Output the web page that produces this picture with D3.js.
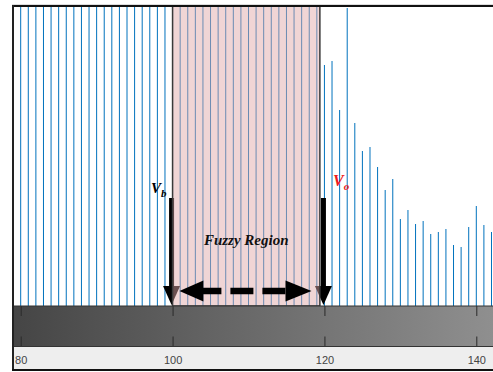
<!DOCTYPE html>
<html>
<head>
<meta charset="utf-8">
<script src="https://cdn.jsdelivr.net/npm/d3@7"></script>
<style>
  body { margin: 0; background: #fff; }
  svg { display: block; }
</style>
</head>
<body>
<div id="chart"></div>
<script>
// bin centres along the x axis
var bins = [80, 81, 82, 83, 84, 85, 86, 87, 88, 89,
            90, 91, 92, 93, 94, 95, 96, 97, 98, 99,
            100, 101, 102, 103, 104, 105, 106, 107, 108, 109,
            110, 111, 112, 113, 114, 115, 116, 117, 118, 119,
            120, 121, 122, 123, 124, 125, 126, 127, 128, 129,
            130, 131, 132, 133, 134, 135, 136, 137, 138, 139,
            140, 141, 142];
// counts per bin (bins below 120 run off the top of the axes)
var counts = [300, 300, 300, 300, 300, 300, 300, 300, 300, 300,
              300, 300, 300, 300, 300, 300, 300, 300, 300, 300,
              300, 300, 300, 300, 300, 300, 300, 300, 300, 300,
              300, 300, 300, 300, 300, 300, 300, 300, 300, 300,
              241, 245, 196, 298, 183, 155, 159, 139, 116, 127,
              87, 96, 82, 85, 72, 74, 77, 61, 59, 79,
              100, 81, 74];
var tickVals = [80, 100, 120, 140];
var fuzzy = [100, 119.4];     // shaded region
var vb = 100, vo = 120;       // the two thresholds

var width = 493, height = 372,
    plotLeft = 13, plotTop = 6, plotBottom = 306, stripBottom = 346.5, frameBottom = 370;

var svg = d3.select("#chart").append("svg")
    .attr("width", width)
    .attr("height", height);

var x = d3.scaleLinear().domain([80, 140]).range([20.7, 476.3]);
var y = d3.scaleLinear().domain([0, 300]).range([plotBottom, plotTop]);

var defs = svg.append("defs");
defs.append("clipPath").attr("id", "plotClip")
  .append("rect")
    .attr("x", plotLeft).attr("y", plotTop)
    .attr("width", width - plotLeft).attr("height", plotBottom - plotTop);

var grad = defs.append("linearGradient")
    .attr("id", "stripGrad")
    .attr("gradientUnits", "userSpaceOnUse")
    .attr("x1", plotLeft).attr("x2", width).attr("y1", 0).attr("y2", 0);
grad.append("stop").attr("offset", "0%").attr("stop-color", "#454545");
grad.append("stop").attr("offset", "100%").attr("stop-color", "#8f8f8f");

var plot = svg.append("g").attr("clip-path", "url(#plotClip)");

// histogram stems
plot.selectAll(".bar")
    .data(bins)
    .enter().append("line")
    .attr("class", "bar")
    .attr("x1", d => x(d)).attr("x2", d => x(d))
    .attr("y1", y(0))
    .attr("y2", (d, i) => y(counts[i]))
    .attr("stroke", "#0072bd")
    .attr("stroke-width", 1);

// vertical threshold arrows
function downArrow(v) {
  var cx = x(v) - 1;
  plot.append("rect")
      .attr("x", cx - 2.5).attr("y", y(108))
      .attr("width", 5).attr("height", y(18) - y(108))
      .attr("fill", "#000");
  plot.append("path")
      .attr("d", "M" + (cx - 8.5) + "," + y(20) + "L" + (cx + 8.5) + "," + y(20) +
                 "L" + cx + "," + y(1) + "Z")
      .attr("fill", "#000");
}
downArrow(vb);
downArrow(vo);

// fuzzy region
plot.append("rect")
    .attr("x", x(fuzzy[0])).attr("y", plotTop)
    .attr("width", x(fuzzy[1]) - x(fuzzy[0]))
    .attr("height", plotBottom - plotTop)
    .attr("fill", "rgb(224,167,167)")
    .attr("fill-opacity", 0.48)
    .attr("stroke", "#3a3a3a")
    .attr("stroke-width", 1.5);

// double headed dashed arrow
var ay = y(15), hx0 = x(100.9), hx1 = x(118.3);
plot.append("line")
    .attr("x1", hx0 + 23).attr("x2", hx1 - 25)
    .attr("y1", ay).attr("y2", ay)
    .attr("stroke", "#000").attr("stroke-width", 6.5)
    .attr("stroke-dasharray", "19 9 23 9 23");
plot.append("path")
    .attr("d", "M" + hx0 + "," + ay + "L" + (hx0 + 24) + "," + (ay - 10.5) +
               "L" + (hx0 + 24) + "," + (ay + 10.5) + "Z")
    .attr("fill", "#000");
plot.append("path")
    .attr("d", "M" + hx1 + "," + ay + "L" + (hx1 - 26) + "," + (ay - 10.5) +
               "L" + (hx1 - 26) + "," + (ay + 10.5) + "Z")
    .attr("fill", "#000");

// labels
var serif = "'Liberation Serif', 'Times New Roman', serif";
svg.append("text")
    .attr("x", (x(fuzzy[0]) + x(fuzzy[1])) / 2).attr("y", 245)
    .attr("text-anchor", "middle")
    .style("font-family", serif).style("font-weight", "bold").style("font-style", "italic")
    .style("font-size", "15px").attr("fill", "#111")
    .text("Fuzzy Region");

var tb = svg.append("text")
    .attr("x", 151).attr("y", 192.5)
    .style("font-family", serif).style("font-weight", "bold").style("font-style", "italic")
    .style("font-size", "15px").attr("fill", "#000");
tb.append("tspan").text("V");
tb.append("tspan").attr("dy", 4).style("font-size", "11px").text("b");

var to = svg.append("text")
    .attr("x", 333).attr("y", 185.5)
    .style("font-family", serif).style("font-weight", "bold").style("font-style", "italic")
    .style("font-size", "16px").attr("fill", "#f01a20");
to.append("tspan").text("V");
to.append("tspan").attr("dy", 4).style("font-size", "11px").text("o");

// overview strip + axis area
svg.append("rect")
    .attr("x", plotLeft).attr("y", plotBottom)
    .attr("width", width - plotLeft).attr("height", stripBottom - plotBottom)
    .attr("fill", "url(#stripGrad)");
svg.append("rect")
    .attr("x", plotLeft).attr("y", stripBottom)
    .attr("width", width - plotLeft).attr("height", frameBottom - stripBottom)
    .attr("fill", "#eeeeee");

var tickTop = svg.append("g")
    .attr("transform", "translate(0," + plotBottom + ")")
    .call(d3.axisBottom(x).tickValues(tickVals).tickSize(10).tickFormat(""));
var tickBot = svg.append("g")
    .attr("transform", "translate(0," + stripBottom + ")")
    .call(d3.axisTop(x).tickValues(tickVals).tickSize(10).tickFormat(""));
[tickTop, tickBot].forEach(function (g) {
  g.select(".domain").remove();
  g.selectAll(".tick line").attr("stroke", "#2a2a2a");
});

var labels = svg.append("g")
    .attr("transform", "translate(0," + stripBottom + ")")
    .call(d3.axisBottom(x).tickValues(tickVals).tickSize(0).tickPadding(10));
labels.select(".domain").remove();
labels.selectAll("text")
    .style("font-family", "'Liberation Sans', Arial, sans-serif")
    .style("font-size", "11px")
    .attr("fill", "#444");

// frame lines
svg.append("line").attr("x1", plotLeft).attr("x2", width).attr("y1", plotBottom).attr("y2", plotBottom)
    .attr("stroke", "#333").attr("stroke-width", 1);
svg.append("line").attr("x1", plotLeft).attr("x2", width).attr("y1", stripBottom).attr("y2", stripBottom)
    .attr("stroke", "#333").attr("stroke-width", 1);
svg.append("line").attr("x1", plotLeft - 1).attr("x2", width).attr("y1", 4.5).attr("y2", 4.5)
    .attr("stroke", "#ddd").attr("stroke-width", 1);
svg.append("line").attr("x1", plotLeft - 1).attr("x2", width).attr("y1", plotTop).attr("y2", plotTop)
    .attr("stroke", "#111").attr("stroke-width", 2);
svg.append("line").attr("x1", plotLeft).attr("x2", plotLeft).attr("y1", plotTop - 1).attr("y2", frameBottom + 1)
    .attr("stroke", "#222").attr("stroke-width", 2);
svg.append("line").attr("x1", plotLeft - 1).attr("x2", width).attr("y1", frameBottom).attr("y2", frameBottom)
    .attr("stroke", "#111").attr("stroke-width", 2);
</script>
</body>
</html>
